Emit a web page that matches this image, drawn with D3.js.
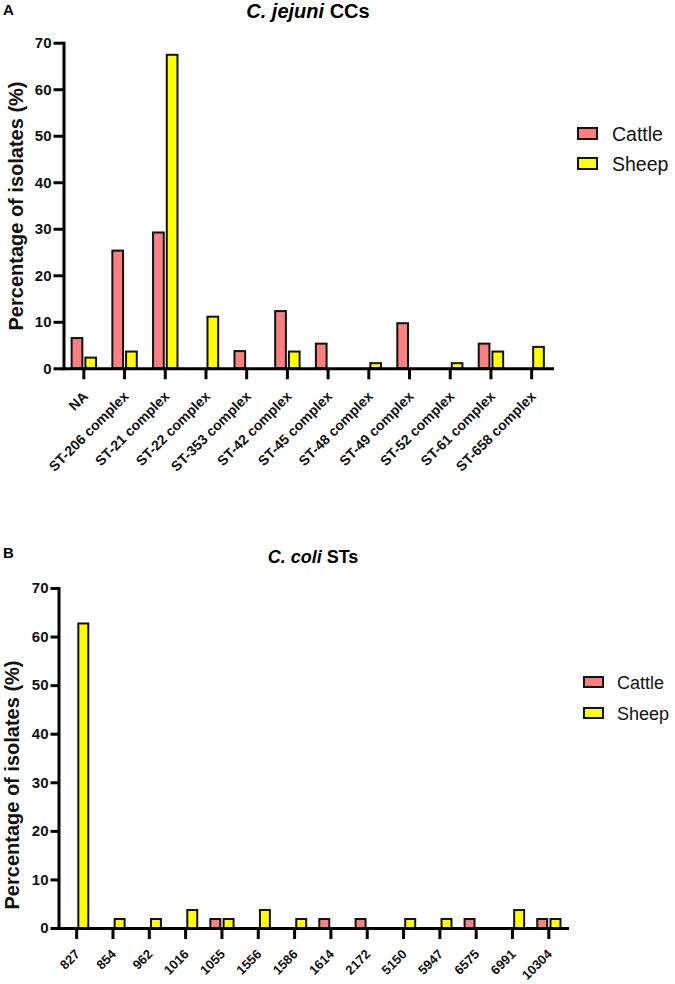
<!DOCTYPE html>
<html>
<head>
<meta charset="utf-8">
<script src="https://cdn.jsdelivr.net/npm/d3@7/dist/d3.min.js"></script>
<style>
  html, body { margin: 0; padding: 0; background: #fff; }
  svg { display: block; font-family: "Liberation Sans", Arial, Helvetica, sans-serif; }
</style>
</head>
<body>
<script>
// ---------- DATA ----------
const seriesNames = ["Cattle", "Sheep"];
const seriesColors = ["#F88080", "#FFFF00"];

const categoriesA = ["NA", "ST-206 complex", "ST-21 complex", "ST-22 complex", "ST-353 complex",
  "ST-42 complex", "ST-45 complex", "ST-48 complex", "ST-49 complex", "ST-52 complex",
  "ST-61 complex", "ST-658 complex"];
const cattleA = [6.5, 25.3, 29.2, 0, 3.7, 12.3, 5.3, 0, 9.7, 0, 5.3, 0];
const sheepA  = [2.3, 3.6, 67.4, 11.1, 0, 3.6, 0, 1.1, 0, 1.1, 3.6, 4.6];

const categoriesB = ["827", "854", "962", "1016", "1055", "1556", "1586", "1614", "2172",
  "5150", "5947", "6575", "6991", "10304"];
const cattleB = [0, 0, 0, 0, 1.85, 0, 0, 1.85, 1.85, 0, 0, 1.85, 0, 1.85];
const sheepB  = [62.7, 1.85, 1.85, 3.7, 1.85, 3.7, 1.85, 0, 0, 1.85, 1.85, 0, 3.7, 1.85];

const yTicks = [0, 10, 20, 30, 40, 50, 60, 70];

// ---------- DRAW ----------
const W = 675, H = 984;
const svg = d3.select("body").append("svg").attr("width", W).attr("height", H);
svg.append("rect").attr("width", W).attr("height", H).attr("fill", "#fff");

function panel(cfg) {
  const g = svg.append("g");
  const x = d3.scaleBand().domain(cfg.categories).range([cfg.x0, cfg.x1]).padding(0);
  const y = d3.scaleLinear().domain([0, 70]).range([cfg.yBottom, cfg.yTop]);
  const half = x.bandwidth() * cfg.groupFrac;
  const xs = d3.scaleBand().domain(seriesNames).range([-half, half]).paddingInner(cfg.innerPad);
  const color = d3.scaleOrdinal().domain(seriesNames).range(seriesColors);

  // panel letter
  g.append("text").attr("x", 3).attr("y", cfg.letterY)
    .attr("font-size", 15).attr("font-weight", "bold").text(cfg.letter);

  // title
  const t = g.append("text").attr("x", cfg.titleX).attr("y", cfg.titleY)
    .attr("text-anchor", "middle").attr("font-size", cfg.titleSize).attr("font-weight", "bold");
  t.append("tspan").attr("font-style", "italic").text(cfg.titleItalic);
  t.append("tspan").text(" " + cfg.titleRest);

  // bars
  const rows = cfg.categories.map((c, i) => ({cat: c, values: [
    {s: "Cattle", v: cfg.cattle[i]}, {s: "Sheep", v: cfg.sheep[i]}]}));
  const grp = g.selectAll("g.grp").data(rows).join("g")
    .attr("transform", d => `translate(${x(d.cat) + x.bandwidth() / 2},0)`);
  grp.selectAll("rect").data(d => d.values.filter(e => e.v > 0)).join("rect")
    .attr("x", d => xs(d.s))
    .attr("width", xs.bandwidth())
    .attr("y", d => y(d.v))
    .attr("height", d => y(0) - y(d.v))
    .attr("fill", d => color(d.s))
    .attr("stroke", "#111")
    .attr("stroke-width", 2);

  // y axis
  const ya = g.append("g").attr("transform", `translate(${cfg.x0},0)`)
    .call(d3.axisLeft(y).tickValues(yTicks).tickSize(cfg.yTickLen).tickSizeOuter(0).tickPadding(2));
  ya.select(".domain").attr("stroke", "#000").attr("stroke-width", 3).attr("stroke-linecap", "square");
  ya.selectAll(".tick line").attr("stroke", "#000").attr("stroke-width", 3);
  ya.selectAll(".tick text").attr("font-size", 15).attr("font-weight", "bold")
    .attr("font-family", "Liberation Sans, Arial, sans-serif").attr("fill", "#111");

  // x axis
  const xa = g.append("g").attr("transform", `translate(0,${cfg.yBottom})`)
    .call(d3.axisBottom(x).tickSize(11).tickSizeOuter(0));
  xa.select(".domain").attr("stroke", "#000").attr("stroke-width", 3).attr("stroke-linecap", "square");
  xa.selectAll(".tick line").attr("stroke", "#000").attr("stroke-width", 3);
  xa.selectAll(".tick text")
    .attr("x", 0).attr("y", 0).attr("dy", 0)
    .attr("text-anchor", "end")
    .attr("transform", `translate(${cfg.labDx},${cfg.labDy}) rotate(-45)`)
    .attr("font-size", cfg.labSize).attr("font-weight", "bold")
    .attr("font-family", "Liberation Sans, Arial, sans-serif").attr("fill", "#111");

  // y axis title
  g.append("text")
    .attr("transform", `translate(${cfg.yTitleX},${cfg.yTitleY}) rotate(-90)`)
    .attr("text-anchor", "middle").attr("font-size", 20).attr("font-weight", "bold")
    .attr("fill", "#111")
    .text("Percentage of isolates (%)");

  // legend
  const lg = g.append("g").attr("transform", `translate(${cfg.legX},${cfg.legY})`);
  seriesNames.forEach((s, i) => {
    lg.append("rect").attr("x", 0).attr("y", i * cfg.legStep)
      .attr("width", 19).attr("height", cfg.legBoxH)
      .attr("fill", color(s)).attr("stroke", "#111").attr("stroke-width", 2);
    lg.append("text").attr("x", cfg.legTextDx).attr("y", i * cfg.legStep + cfg.legBoxH + 1.5)
      .attr("font-size", cfg.legSize).attr("fill", "#111").text(s);
  });
}

panel({
  letter: "A", letterY: 15,
  titleItalic: "C. jejuni", titleRest: "CCs", titleX: 308, titleY: 18, titleSize: 20,
  categories: categoriesA, cattle: cattleA, sheep: sheepA,
  x0: 63.5, x1: 552, yBottom: 368.3, yTop: 42.7,
  groupFrac: 0.3, innerPad: 0.22, yTickLen: 10,
  labDx: 5, labDy: 29, labSize: 14,
  yTitleX: 23, yTitleY: 206,
  legX: 578, legY: 128, legStep: 30, legBoxH: 11, legTextDx: 34, legSize: 19.5
});

panel({
  letter: "B", letterY: 558,
  titleItalic: "C. coli", titleRest: "STs", titleX: 313, titleY: 563, titleSize: 18,
  categories: categoriesB, cattle: cattleB, sheep: sheepB,
  x0: 58.5, x1: 567, yBottom: 928, yTop: 588,
  groupFrac: 0.32, innerPad: 0.25, yTickLen: 8,
  labDx: 4, labDy: 27, labSize: 13,
  yTitleX: 19, yTitleY: 785,
  legX: 584, legY: 677, legStep: 31, legBoxH: 10, legTextDx: 33, legSize: 18
});
</script>
</body>
</html>
